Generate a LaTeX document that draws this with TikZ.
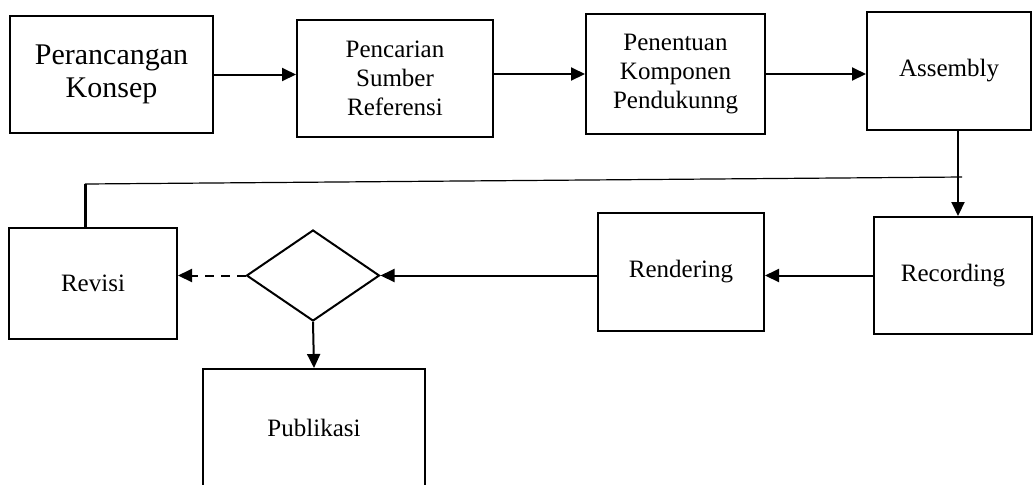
\documentclass[tikz,border=0pt]{standalone}
\usepackage{fontspec}
\setmainfont{Liberation Serif}
\usetikzlibrary{arrows.meta,shapes.geometric}

\begin{document}
\begin{tikzpicture}[x=0.5pt,y=-0.5pt,
    >={Triangle[length=7pt,width=6.5pt]},
    box/.style={draw,line width=1pt,align=center,inner sep=0pt,
      font=\fontsize{12.5}{14.5}\selectfont},
    flow/.style={line width=1pt,->}]
    \useasboundingbox (0,0) rectangle (1033,484);
    % top row
    \node[box,minimum width=101.5pt,minimum height=58.5pt,
      font=\fontsize{15}{16.5}\selectfont] (konsep) at (111.5,74.5)
      {Perancangan\\Konsep};
    \node[box,minimum width=98pt,minimum height=58.5pt] (sumber) at (395,78.5)
      {Pencarian\\Sumber\\Referensi};
    \node[box,minimum width=89.5pt,minimum height=60pt] (komponen) at (675.5,74)
      {Penentuan\\Komponen\\Pendukunng};
    \node[box,minimum width=82pt,minimum height=59pt] (assembly) at (949,71)
      {Assembly};
    % second row
    \node[box,minimum width=79pt,minimum height=58.5pt] (recording) at (953,275.5)
      {Recording};
    \node[box,minimum width=83pt,minimum height=59pt] (rendering) at (681,272)
      {Rendering};
    \node[draw,diamond,line width=1pt,inner sep=0pt,minimum width=66.5pt,
      minimum height=45.5pt] (cek) at (313,275.5) {};
    \node[box,minimum width=84pt,minimum height=55.5pt] (revisi) at (93,283.5)
      {Revisi};
    \node[box,minimum width=111pt,minimum height=58.5pt] (publikasi) at (314,427.5)
      {Publikasi};
    \coordinate (revtop) at (85,184);
    \coordinate (loopend) at (962,177);

    \draw[flow] (konsep.east) -- (konsep.east -| sumber.west);
    \draw[flow] (komponen.west -| sumber.east) -- (komponen.west);
    \draw[flow] (komponen.east) -- (komponen.east -| assembly.west);
    \draw[flow] ([xshift=4.5pt]assembly.south) -- ([xshift=4.5pt]assembly.south |- recording.north);
    \draw[flow] (recording.west) -- (recording.west -| rendering.east);
    \draw[flow] (rendering.west |- cek.east) -- (cek.east);
    \draw[flow,dash pattern=on 4.5pt off 3.5pt] (cek.west) -- (cek.west -| revisi.east);
    \draw[flow] (cek.south) -- (publikasi.north);
    \draw[line width=1.5pt] (revtop |- revisi.north) -- (revtop);
    \draw[line width=0.6pt] (revtop) -- (loopend);
\end{tikzpicture}
\end{document}
